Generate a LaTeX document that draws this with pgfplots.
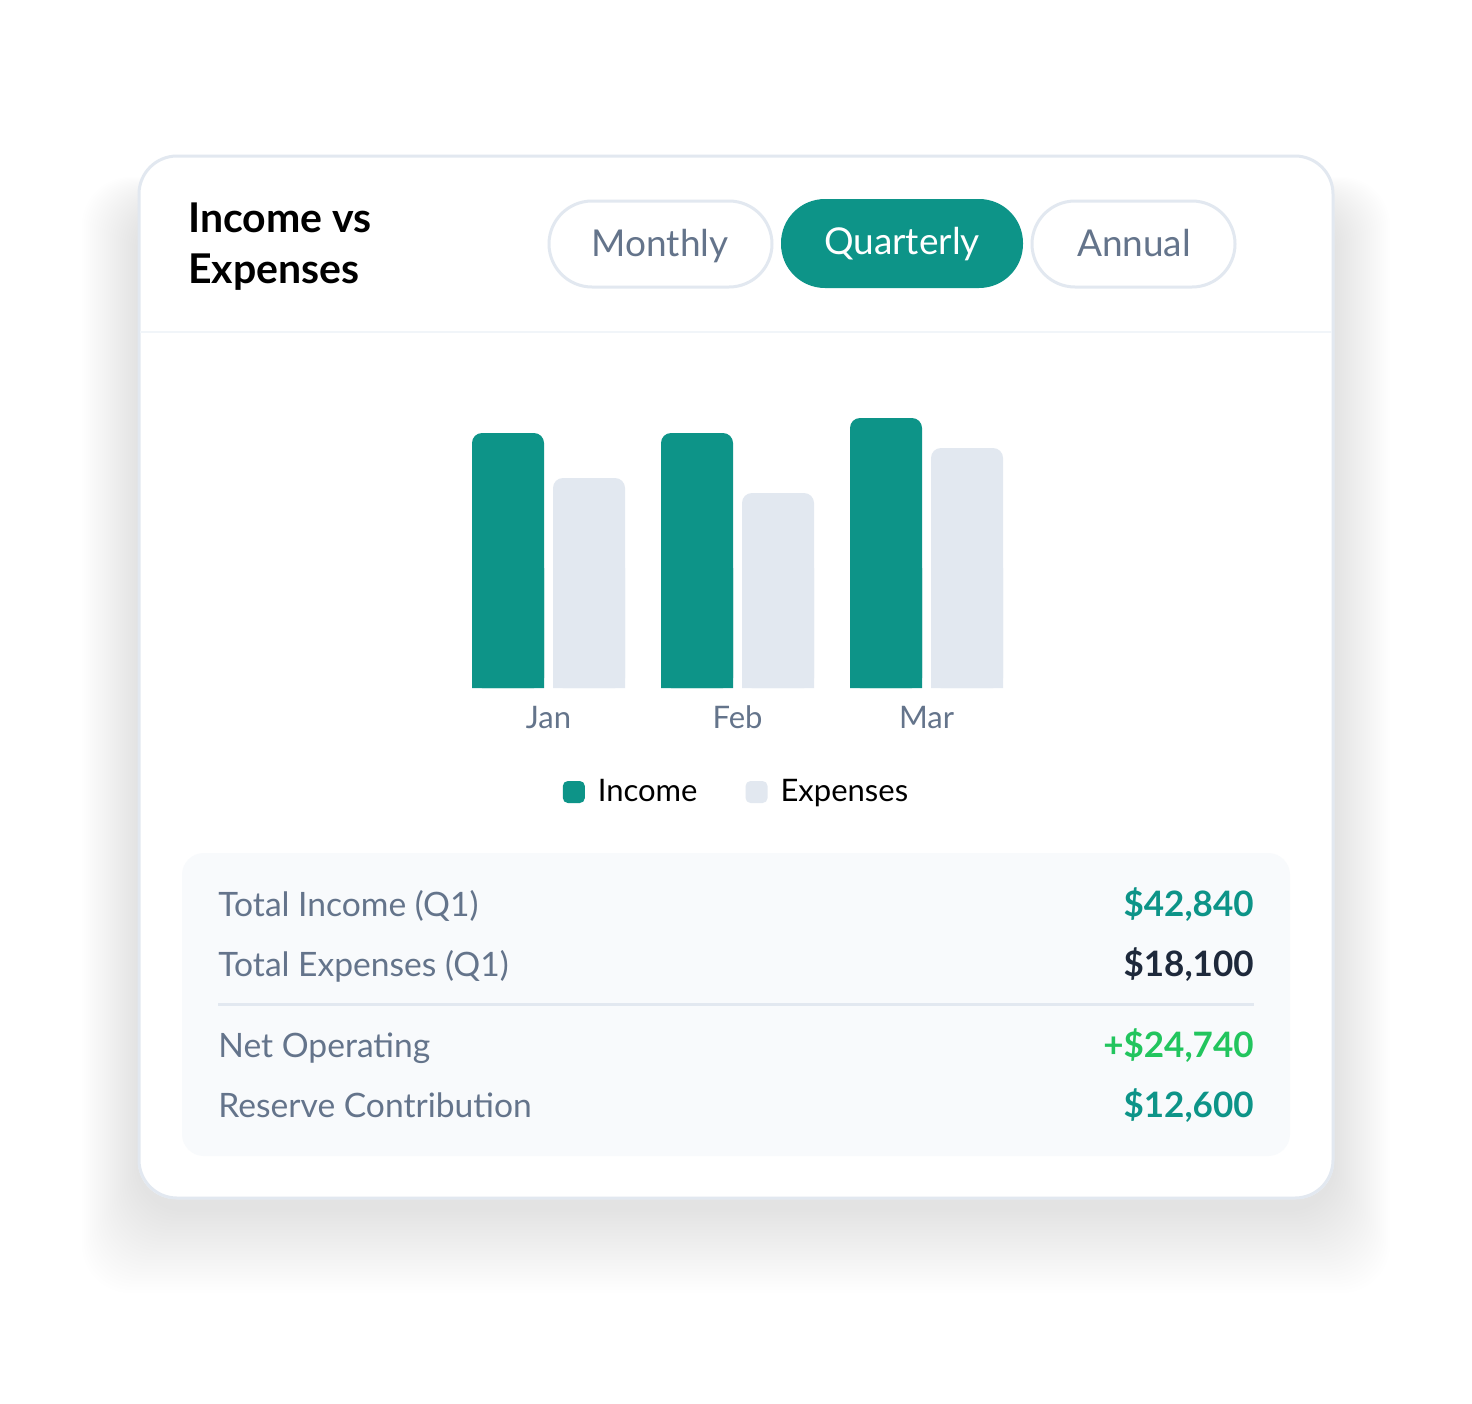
\documentclass[border=0pt]{standalone}
\usepackage{fontspec}
\setmainfont{Lato}
\usepackage{pgfplots}
\usepackage{pgfplotstable}
\pgfplotsset{compat=1.18}

\definecolor{teal0}{HTML}{0D9488}
\definecolor{expbar}{HTML}{E2E8F0}
\definecolor{slate}{HTML}{64748B}
\definecolor{ink}{HTML}{1E293B}
\definecolor{greenv}{HTML}{22C55E}
\definecolor{panel}{HTML}{F8FAFC}
\definecolor{rule}{HTML}{F1F5F9}

% monthly bars (share of the scale, 0-100)
\pgfplotstableread{
x month income expenses
0 Jan 85 70
1 Feb 85 65
2 Mar 90 80
}\monthdata

\begin{document}
\begin{tikzpicture}
\begin{scope}[x=0.5pt,y=-0.5pt]
  \path[use as bounding box, fill=white] (0,0) rectangle (1472,1403);
  % soft shadow
  \foreach \i in {1,...,28}{
    \fill[black, opacity=0.0026, rounded corners=24pt]
      (138-2*\i,155-1*\i+50) rectangle (1334+2*\i,1199+3*\i+10);
  }
  % card
  \fill[white, rounded corners=19pt] (138,155) rectangle (1334,1199);
  \draw[expbar, line width=1.5pt, rounded corners=19pt] (139,156) rectangle (1333,1198);
  \draw[rule, line width=1pt] (140,332) -- (1332,332);

  % title
  \node[anchor=base west, inner sep=0pt, font=\fontsize{20.5}{24}\selectfont\bfseries] at (188,232) {Income vs};
  \node[anchor=base west, inner sep=0pt, font=\fontsize{20.5}{24}\selectfont\bfseries] at (188,283) {Expenses};

  % period buttons
  \draw[expbar, line width=1.5pt, fill=white, rounded corners=21.5pt] (549,201) rectangle (772,287);
  \fill[teal0, rounded corners=22pt] (781,199) rectangle (1023,288);
  \draw[expbar, line width=1.5pt, fill=white, rounded corners=21.5pt] (1032,201) rectangle (1235,287);
  \node[anchor=base, inner sep=0pt, text=slate, font=\fontsize{18.5}{22}\selectfont] at (660,256) {Monthly};
  \node[anchor=base, inner sep=0pt, text=white, font=\fontsize{18.5}{22}\selectfont] at (902,254) {Quarterly};
  \node[anchor=base, inner sep=0pt, text=slate, font=\fontsize{18.5}{22}\selectfont] at (1134,256) {Annual};

  % summary panel
  \fill[panel, rounded corners=11pt] (182,853) rectangle (1290,1156);
  \draw[expbar, line width=1.5pt] (218,1004) -- (1254,1004);
  \begin{scope}[every node/.style={inner sep=0pt, font=\fontsize{16.8}{20}\selectfont}]
    \node[anchor=base west, text=slate] at (218,916) {Total Income (Q1)};
    \node[anchor=base west, text=slate] at (218,976) {Total Expenses (Q1)};
    \node[anchor=base west, text=slate] at (218,1057) {Net Operating};
    \node[anchor=base west, text=slate] at (218,1117) {Reserve Contribution};
    \node[anchor=base east, text=teal0, font=\fontsize{17.5}{20}\selectfont\bfseries] at (1254,916) {\$42,840};
    \node[anchor=base east, text=ink, font=\fontsize{17.5}{20}\selectfont\bfseries] at (1254,976) {\$18,100};
    \node[anchor=base east, text=greenv, font=\fontsize{17.5}{20}\selectfont\bfseries] at (1254,1057) {+\$24,740};
    \node[anchor=base east, text=teal0, font=\fontsize{17.5}{20}\selectfont\bfseries] at (1254,1117) {\$12,600};
  \end{scope}
\end{scope}

\begin{axis}[
    at={(227pt,-344pt)}, anchor=south west,
    scale only axis, width=283.5pt, height=150pt,
    xmin=-0.5, xmax=2.5, ymin=0, ymax=100,
    axis line style={draw=none},
    ytick=\empty,
    xtick={0,1,2}, xticklabels={Jan,Feb,Mar},
    major tick length=0pt,
    xticklabel style={text=slate, font=\fontsize{15.5}{18}\selectfont, yshift=-5.5pt},
    legend style={at={(0.5,0)}, anchor=center, yshift=-52pt,
      draw=none, fill=none, font=\fontsize{15.5}{18}\selectfont,
      legend columns=2,
      /tikz/every even column/.append style={column sep=22pt}},
    legend cell align=left,
    clip=false,
  ]
  \addplot[ybar, bar width=36pt, bar shift=-20.25pt, fill=teal0, draw=none, rounded corners=5pt,
    legend image code/.code={\fill[teal0, rounded corners=2.5pt] (0pt,-5.5pt) rectangle (11pt,5.5pt); \path (15.5pt,0pt);}]
    table[x=x, y=income] {\monthdata};
  \addplot[ybar, bar width=36pt, bar shift=20.25pt, fill=expbar, draw=none, rounded corners=5pt,
    legend image code/.code={\fill[expbar, rounded corners=2.5pt] (0pt,-5.5pt) rectangle (11pt,5.5pt); \path (15.5pt,0pt);}]
    table[x=x, y=expenses] {\monthdata};
  \legend{Income, Expenses}
  % square bottoms of the bars
  \begin{scope}
    \clip (axis cs:-0.5,0) rectangle (axis cs:2.5,40);
    \addplot[ybar, bar width=36pt, bar shift=-20.25pt, fill=teal0, draw=none, forget plot]
      table[x=x, y=income] {\monthdata};
    \addplot[ybar, bar width=36pt, bar shift=20.25pt, fill=expbar, draw=none, forget plot]
      table[x=x, y=expenses] {\monthdata};
  \end{scope}
\end{axis}
\end{tikzpicture}
\end{document}
